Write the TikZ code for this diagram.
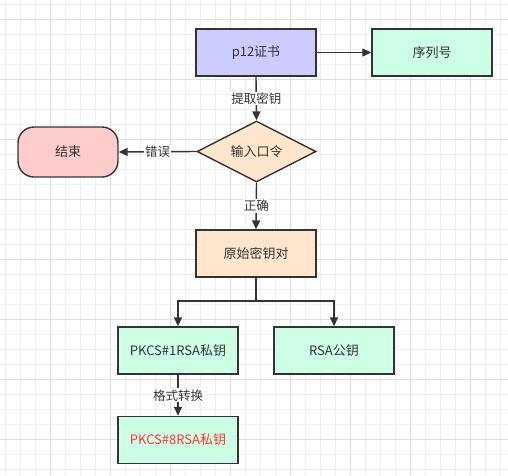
\documentclass[tikz,border=0pt]{standalone}
\usepackage{fontspec}
\setmainfont{Noto Sans CJK SC}
\usetikzlibrary{arrows.meta,shapes.geometric}
\definecolor{lc}{HTML}{333333}
\definecolor{gridminor}{HTML}{EEEEEE}
\definecolor{gridmajor}{HTML}{DEDEDE}
\definecolor{cpurple}{HTML}{CCCCFF}
\definecolor{cgreen}{HTML}{CCFFE6}
\definecolor{corange}{HTML}{FFE6CC}
\definecolor{cred}{HTML}{FFCCCC}
\definecolor{ctext}{HTML}{FF3333}
\tikzset{
  box/.style={draw=lc, line width=1.4pt, minimum width=120pt, minimum height=47pt, inner sep=0pt, text=lc},
  dia/.style={draw=lc, line width=1.4pt, diamond, aspect=2, minimum width=119pt, minimum height=61pt, inner sep=0pt, text=lc},
  term/.style={draw=lc, line width=1.4pt, rounded corners=16pt, minimum width=100pt, minimum height=50pt, inner sep=0pt, text=lc},
  conn/.style={draw=lc, line width=1.4pt, -{Triangle[length=9pt,width=8pt]}},
  plain/.style={draw=lc, line width=1.4pt},
  lbl/.style={fill=white, inner sep=1pt, text=lc, font=\fontsize{12.5}{14}\selectfont},
  minorline/.style={draw=gridminor, line width=1pt},
  majorline/.style={draw=gridmajor, line width=1pt}
}
\begin{document}
\begin{tikzpicture}[x=1pt,y=-1pt, font=\fontsize{13}{15}\selectfont]
\useasboundingbox (0,0) rectangle (508,475);
\fill[white] (0,0) rectangle (508,475);
\foreach \x in {5,20,...,500} \draw[minorline] (\x,0) -- (\x,475);
\foreach \y in {4,19,...,470} \draw[minorline] (0,\y) -- (508,\y);
\foreach \x in {50,110,...,470} \draw[majorline] (\x,0) -- (\x,475);
\foreach \y in {19,79,...,439} \draw[majorline] (0,\y) -- (508,\y);

\node[box, fill=cpurple] (p12) at (256,52.5) {p12证书};
\node[box, fill=cgreen] (sn) at (432,52.5) {序列号};
\node[dia, fill=corange] (pw) at (256.5,151.5) {输入口令};
\node[term, fill=cred] (end) at (68,152) {结束};
\node[box, fill=corange] (orig) at (256,253.5) {原始密钥对};
\node[box, fill=cgreen] (pk1) at (178,350.5) {PKCS\#1RSA私钥};
\node[box, fill=cgreen] (pub) at (334,350.5) {RSA公钥};
\node[box, fill=cgreen, text=ctext] (pk8) at (178,440) {PKCS\#8RSA私钥};
\coordinate (br) at (256,301);

\draw[conn] (p12.east) -- (sn.west);
\draw[conn] (p12.south) -- node[lbl] {提取密钥} (pw.north);
\draw[conn] (pw.west) -- node[lbl] {错误} (end.east);
\draw[conn] (pw.south) -- node[lbl] {正确} (orig.north);
\draw[plain] (orig.south) -- (br);
\draw[conn] (br) -| (pk1.north);
\draw[conn] (br) -| (pub.north);
\draw[conn] (pk1.south) -- node[lbl] {格式转换} (pk8.north);
\end{tikzpicture}
\end{document}
